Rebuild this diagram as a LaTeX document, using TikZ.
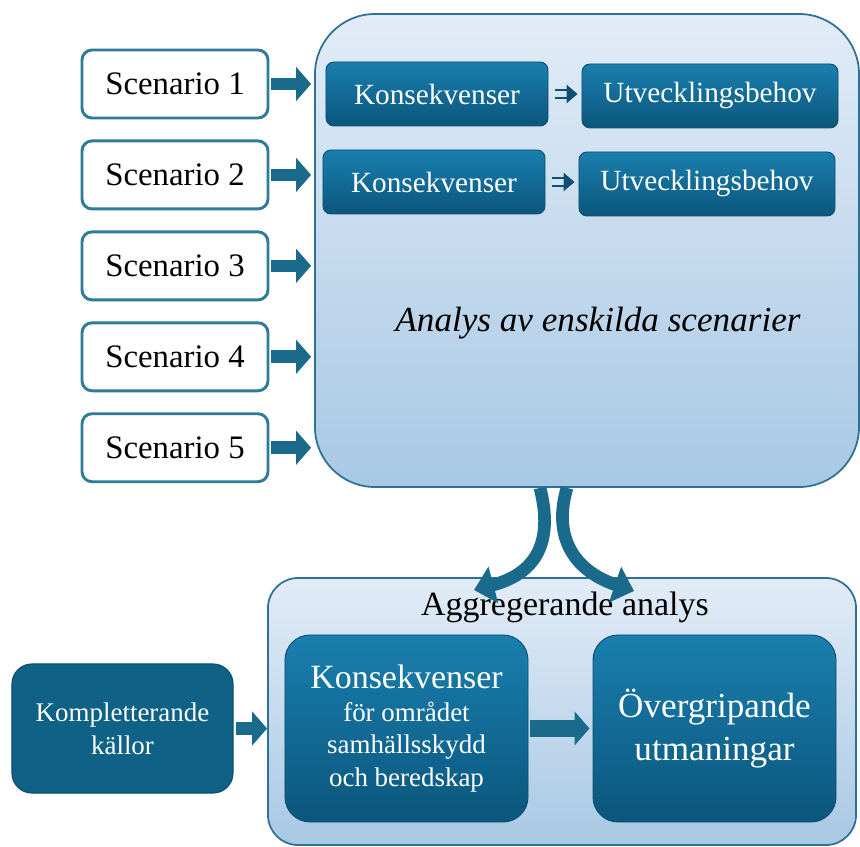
\documentclass[tikz,border=0pt]{standalone}
\usepackage{fontspec}
\setmainfont{Liberation Serif}
\usetikzlibrary{positioning,arrows.meta}
\definecolor{scenline}{HTML}{2E7B9A}
\definecolor{arrowblue}{HTML}{1A6A8C}
\definecolor{paletop}{HTML}{E2ECF7}
\definecolor{palebot}{HTML}{A8C8E4}
\definecolor{paleline}{HTML}{2F7096}
\definecolor{darktop}{HTML}{1A7FAE}
\definecolor{darkbot}{HTML}{0B567C}
\definecolor{darkline}{HTML}{0C4F70}
\definecolor{kompfill}{HTML}{0F6185}

\begin{document}
\begin{tikzpicture}[x=0.03cm,y=-0.03cm]
	\tikzstyle{scen}=[draw=scenline, line width=2.5pt, fill=white, rounded corners=0.3cm,
		minimum width=5.58cm, minimum height=2.04cm, font=\fontsize{28}{31}\selectfont]
	\tikzstyle{pale}=[draw=paleline, line width=1.5pt, top color=paletop, bottom color=palebot]
	\tikzstyle{dark}=[draw=darkline, line width=0.8pt, top color=darktop, bottom color=darkbot,
		text=white, align=center]
	\tikzstyle{smallbox}=[dark, rounded corners=0.24cm, minimum height=1.92cm,
		font=\fontsize{25}{28}\selectfont]
	\tikzstyle{bigdark}=[dark, rounded corners=0.75cm, minimum width=7.29cm, minimum height=5.61cm]
	\tikzstyle{fatarrow}=[arrowblue, line width=0.38cm, -{Triangle[length=0.45cm, width=1cm]}]
	\tikzstyle{thinarrow}=[darkline, line width=1.6pt, double=palebot!50!white, double distance=4.5pt,
		-{Triangle[length=0.33cm, width=0.55cm]}]
	\tikzstyle{curvearrow}=[arrowblue, line width=0.38cm, -{Triangle[length=0.6cm, width=1.1cm]}]

	\useasboundingbox (0,0) rectangle (860,847);

	% analys av enskilda scenarier
	\node[pale, rounded corners=1.8cm, minimum width=16.32cm, minimum height=14.19cm] (ana) at (587,250.5) {};
	\node[font=\fontsize{30}{34}\selectfont\itshape] (anatext) at (598,323) {Analys av enskilda scenarier};

	\node[scen] (s1) at (175,84) {Scenario 1};
	\node[scen, below=0.6cm of s1] (s2) {Scenario 2};
	\node[scen, below=0.6cm of s2] (s3) {Scenario 3};
	\node[scen, below=0.6cm of s3] (s4) {Scenario 4};
	\node[scen, below=0.6cm of s4] (s5) {Scenario 5};
	\foreach \s in {s1,s2,s3,s4,s5}
		\draw[fatarrow, shorten <=0.06cm, shorten >=0.09cm] (\s.east) -- (\s.east -| ana.west);

	\node[smallbox, minimum width=6.66cm] (k1) at (437,94) {Konsekvenser};
	\node[smallbox, minimum width=7.68cm] (u1) at (710,96) {Utvecklingsbehov};
	\node[smallbox, minimum width=6.66cm] (k2) at (434,182) {Konsekvenser};
	\node[smallbox, minimum width=7.68cm] (u2) at (707,184) {Utvecklingsbehov};
	\draw[thinarrow, shorten <=0.2cm, shorten >=0.12cm] (k1.east) -- (k1.east -| u1.west);
	\draw[thinarrow, shorten <=0.2cm, shorten >=0.12cm] (k2.east) -- (k2.east -| u2.west);

	% aggregerande analys
	\node[pale, rounded corners=0.9cm, minimum width=17.64cm, minimum height=8.01cm] (agg) at (562,711.5) {};
	\node[font=\fontsize{29}{32}\selectfont] (aggtext) at (565,607) {Aggregerande analys};

	\coordinate (c1) at (474,590);
	\coordinate (c2) at (634,591);
	\draw[curvearrow] (540,0 |- ana.south) .. controls (552,535) and (542,572) .. (c1);
	\draw[curvearrow] (567,0 |- ana.south) .. controls (553,535) and (572,570) .. (c2);

	\node[bigdark, font=\fontsize{23}{28}\selectfont] (kons) at (406.5,728.5)
		{{\fontsize{29}{34}\selectfont Konsekvenser}\\för området\\samhällsskydd\\och beredskap};
	\node[bigdark, font=\fontsize{30}{37}\selectfont] (overg) at (714.5,728.5) {Övergripande\\utmaningar};
	\node[draw=darkline, line width=1pt, fill=kompfill, rounded corners=0.6cm, text=white, align=center,
		minimum width=6.63cm, minimum height=3.87cm, font=\fontsize{23}{28}\selectfont]
		(komp) at (122.5,728.5) {Kompletterande\\källor};

	\draw[fatarrow, shorten <=0.06cm] (komp.east) -- (komp.east -| agg.west);
	\draw[fatarrow, line width=0.5cm, shorten <=0.06cm, shorten >=0.09cm] (kons.east) -- (overg.west);
\end{tikzpicture}
\end{document}
